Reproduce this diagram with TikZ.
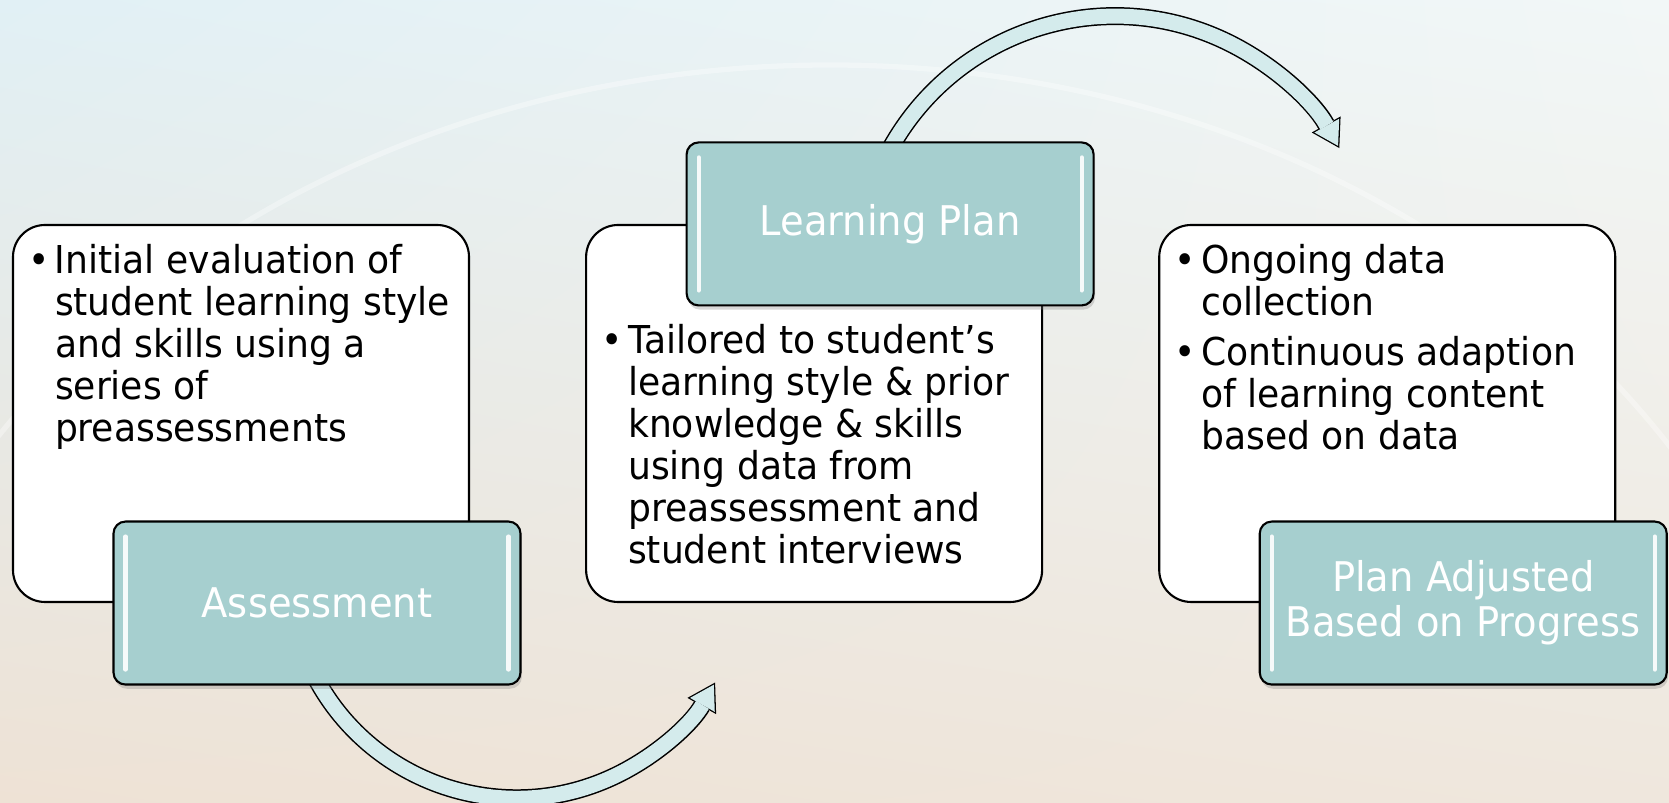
\documentclass[tikz,border=0pt]{standalone}
\usepackage{fontspec}
\setmainfont{DejaVu Sans}[FakeStretch=0.94]
\usetikzlibrary{positioning,arrows.meta,shadows,shadings,backgrounds}

\definecolor{tealfill}{HTML}{A6CFCF}
\definecolor{bandfill}{HTML}{D4EBEC}
\definecolor{bgtl}{HTML}{E1F0F5}
\definecolor{bgtr}{HTML}{F2F7F7}
\definecolor{bgbl}{HTML}{EEE2D5}
\definecolor{bgbr}{HTML}{EFE7DD}

\newcommand{\boxtext}[2]{\parbox[c][3.77cm][t]{4.56cm}{\raggedright\leftskip=0.42cm
  \fontsize{10.93pt}{11.95pt}\selectfont\vspace*{#1}#2}}
\newcommand{\bitem}{\par\noindent\strut\llap{\textbullet\hspace{0.05cm}}}

\begin{document}
\begin{tikzpicture}
\tikzstyle{infobox}=[draw=black,line width=0.6pt,fill=white,rounded corners=0.32cm,
  minimum width=4.56cm,minimum height=3.77cm,inner sep=0pt];
\tikzstyle{tealbox}=[draw=black,line width=0.6pt,fill=tealfill,rounded corners=0.12cm,
  minimum width=4.07cm,minimum height=1.63cm,inner sep=0pt,text=white,align=center,
  font=\fontsize{11.64pt}{12.8pt}\selectfont,
  drop shadow={shadow xshift=0.4pt,shadow yshift=-1.2pt,opacity=0.3},
  path picture={
    \draw[white,opacity=0.9,line width=1.2pt,line cap=round]
      ([shift={(0.12,-0.15)}]path picture bounding box.north west) -- ([shift={(0.12,0.15)}]path picture bounding box.south west)
      ([shift={(-0.12,-0.15)}]path picture bounding box.north east) -- ([shift={(-0.12,0.15)}]path picture bounding box.south east);
  }];
\tikzstyle{bandout}=[draw=black,line width=0.18cm,-{Triangle[line width=0pt,length=0.27cm,width=0.33cm]}];
\tikzstyle{bandin}=[draw=bandfill,line width=0.15cm,shorten >=0.025cm,-{Triangle[line width=0pt,length=0.232cm,width=0.284cm]}];

\useasboundingbox (0,0) rectangle (16.69,8.03);

% boxes
\node[infobox] (info1) at (2.41,3.895) {\boxtext{0.196cm}{%
  \bitem Initial evaluation of\\student learning style\\and skills using a\\series of\\preassessments}};
\node[infobox,right=1.15cm of info1] (info2) {\boxtext{0.996cm}{%
  \bitem Tailored to student’s\\learning style \& prior\\knowledge \& skills\\using data from\\preassessment and\\student interviews}};
\node[infobox,right=1.15cm of info2] (info3) {\boxtext{0.196cm}{%
  \bitem Ongoing data\\collection
  \vspace{0.075cm}
  \bitem Continuous adaption\\of learning content\\based on data}};

\node[tealbox] (assess) at ([xshift=0.76cm]info1.south) {Assessment};
\node[tealbox] (plan) at ([xshift=0.76cm]info2.north) {Learning Plan};
\node[tealbox] (adjust) at ([xshift=0.76cm]info3.south) {Plan Adjusted\\Based on Progress};

\begin{scope}[on background layer]
\shade[upper left=bgtl,upper right=bgtr,lower left=bgbl,lower right=bgbr] (0,0) rectangle (16.69,8.03);
\draw[white,opacity=0.35,line width=1.5pt] (8.3,-0.97) ellipse [x radius=10,y radius=8.35];
% arrows
\draw[bandout] ([shift={(-0.07,0.19)}]assess.south) arc[start angle=205,end angle=330.5,radius=2.28];
\draw[bandin] ([shift={(-0.07,0.19)}]assess.south) arc[start angle=205,end angle=330.5,radius=2.28];
\draw[bandout] ([shift={(-0.06,-0.19)}]plan.north) arc[start angle=154,end angle=29.1,radius=2.568];
\draw[bandin] ([shift={(-0.06,-0.19)}]plan.north) arc[start angle=154,end angle=29.1,radius=2.568];
\end{scope}
\end{tikzpicture}
\end{document}
